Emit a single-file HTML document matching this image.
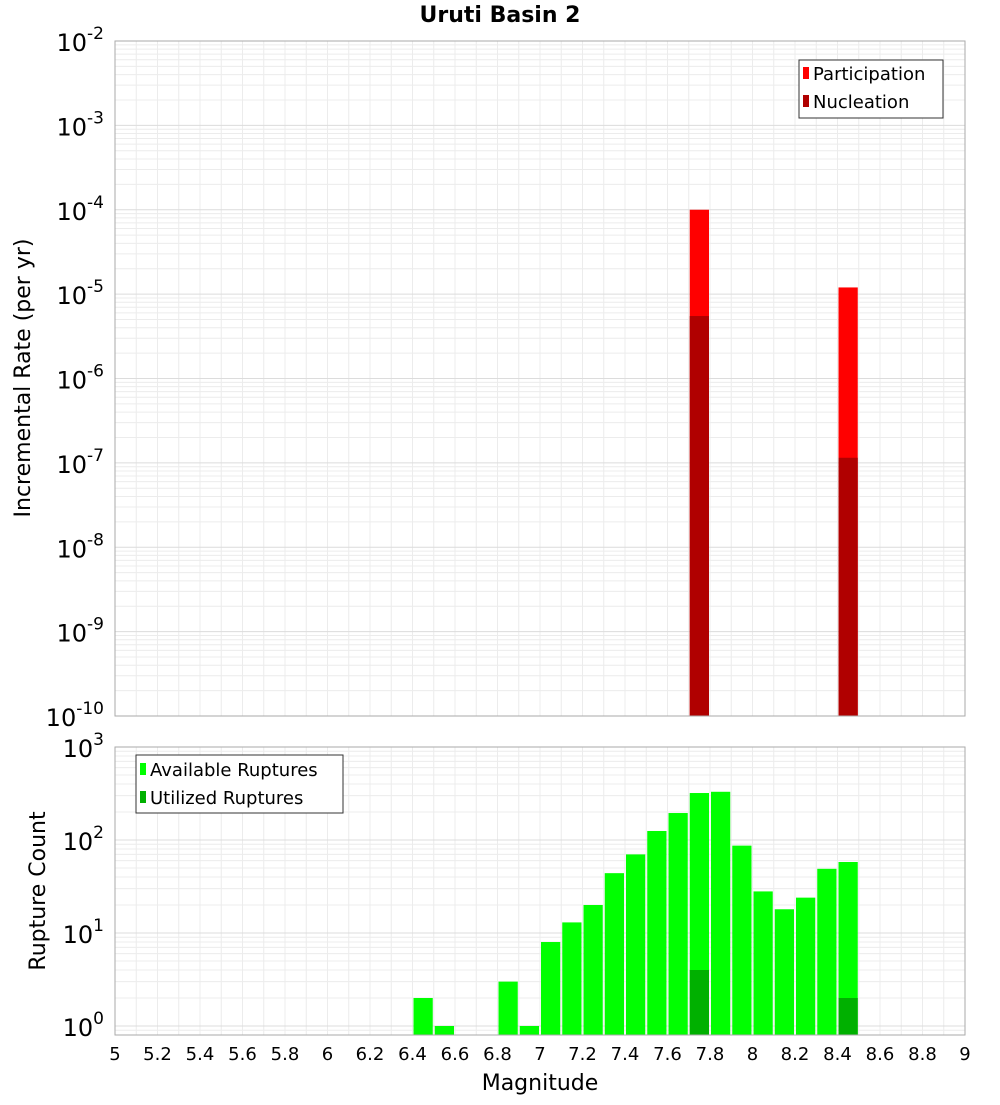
<!DOCTYPE html>
<html><head><meta charset="utf-8"><style>
body{margin:0;background:#fff;font-family:"Liberation Sans","DejaVu Sans",sans-serif}
</style></head><body>
<svg id="chart" width="1000" height="1100" xmlns="http://www.w3.org/2000/svg" font-family="DejaVu Sans, Liberation Sans, sans-serif">
<text x="500" y="22" text-anchor="middle" font-size="22" font-weight="bold">Uruti Basin 2</text>
<g id="topg"></g>
<g id="botg"></g>
<text x="30" y="378" transform="rotate(-90 30 378)" text-anchor="middle" font-size="22">Incremental Rate (per yr)</text>
<text x="45" y="891" transform="rotate(-90 45 891)" text-anchor="middle" font-size="22">Rupture Count</text>
<text x="540" y="1090" text-anchor="middle" font-size="22">Magnitude</text>
<g>
<rect x="799" y="60" width="144" height="58" fill="#fff" stroke="#333"/>
<rect x="803" y="67" width="6" height="12" fill="#ff0000"/><text x="813" y="80" font-size="18">Participation</text>
<rect x="803" y="95" width="6" height="12" fill="#b00000"/><text x="813" y="108" font-size="18">Nucleation</text>
</g>
<g>
<rect x="136" y="755" width="207" height="58" fill="#fff" stroke="#333"/>
<rect x="140" y="763" width="6" height="12" fill="#00ff00"/><text x="150" y="776" font-size="18">Available Ruptures</text>
<rect x="140" y="791" width="6" height="12" fill="#00b000"/><text x="150" y="804" font-size="18">Utilized Ruptures</text>
</g>
</svg>
<script>
const centers=[6.45,6.55,6.85,6.95,7.05,7.15,7.25,7.35,7.45,7.55,7.65,7.75,7.85,7.95,8.05,8.15,8.25,8.35,8.45];
const available=[2,1,3,1,8,13,20,44,70,125,195,320,330,87,28,18,24,49,58];
const utilizedMags=[7.75,8.45];
const utilized=[4,2];
const rateMags=[7.75,8.45];
const participation=[1.0e-4,1.2e-5];
const nucleation=[5.5e-6,1.15e-7];
const xTicks=[5,5.2,5.4,5.6,5.8,6,6.2,6.4,6.6,6.8,7,7.2,7.4,7.6,7.8,8,8.2,8.4,8.6,8.8,9];
const topExp=[-10,-9,-8,-7,-6,-5,-4,-3,-2];
const botExp=[0,1,2,3];
const NS="http://www.w3.org/2000/svg";
const X0=115,X1=965;
const x=m=>X0+(m-5)/4*(X1-X0);
const TY0=41,TY1=716;
const yTop=v=>TY0+(-2-Math.log10(v))*(TY1-TY0)/8;
const BY0=747,BY1=1035,BD=93;
const yBot=v=>BY0+(3-Math.log10(v))*BD;
function el(p,t,a){const e=document.createElementNS(NS,t);for(const k in a)e.setAttribute(k,a[k]);p.appendChild(e);return e;}
function grid(g,y0,y1,exps,yf){
  for(let m=5;m<=9.001;m+=0.1){const l=el(g,'line',{x1:x(m),x2:x(m),y1:y0,y2:y1,stroke:'#ececec'});
    
    }
  for(let i=0;i<exps.length;i++){for(let k=1;k<10;k++){const yy=yf(k*Math.pow(10,exps[i]));if(yy<y0||yy>y1)continue;
    const l=el(g,'line',{x1:X0,x2:X1,y1:yy,y2:yy,stroke:k==1?'#dcdcdc':'#ececec'});
    
    }}
}
const topG=document.getElementById('topg'),botG=document.getElementById('botg');
grid(topG,TY0,TY1,topExp,yTop);
grid(botG,BY0,BY1,[-1].concat(botExp),yBot);
const bw=x(5.1)-x(5)-2;
for(let i=0;i<rateMags.length;i++){
  let r=el(topG,'rect',{x:x(rateMags[i])-bw/2,y:yTop(participation[i]),width:bw,height:TY1-yTop(participation[i]),fill:'#ff0000'});
  
  
  r=el(topG,'rect',{x:x(rateMags[i])-bw/2,y:yTop(nucleation[i]),width:bw,height:TY1-yTop(nucleation[i]),fill:'#b00000'});
  
  
}
for(let i=0;i<centers.length;i++){
  const r=el(botG,'rect',{x:x(centers[i])-bw/2,y:yBot(available[i]),width:bw,height:BY1-yBot(available[i]),fill:'#00ff00'});
  
  
}
for(let i=0;i<utilizedMags.length;i++){
  const r=el(botG,'rect',{x:x(utilizedMags[i])-bw/2,y:yBot(utilized[i]),width:bw,height:BY1-yBot(utilized[i]),fill:'#00b000'});
  
  
}
let f=el(topG,'rect',{x:X0,y:TY0,width:X1-X0,height:TY1-TY0,fill:'none',stroke:'#aaa'});


f=el(botG,'rect',{x:X0,y:BY0,width:X1-X0,height:BY1-BY0,fill:'none',stroke:'#aaa'});


function ylab(g,yy,e){const t=el(g,'text',{x:104,y:yy+10,'text-anchor':'end','font-size':24});
  
  
  t.textContent='10';const s=el(t,'tspan',{dy:-12,'font-size':17});s.textContent=e;}
topExp.forEach(e=>ylab(topG,yTop(Math.pow(10,e)),e));
botExp.forEach(e=>ylab(botG,yBot(Math.pow(10,e)),e));
xTicks.forEach(m=>{const t=el(botG,'text',{x:x(m),y:1060,'text-anchor':'middle','font-size':18});
  
  
  t.textContent=String(m);});
</script>
</body></html>
